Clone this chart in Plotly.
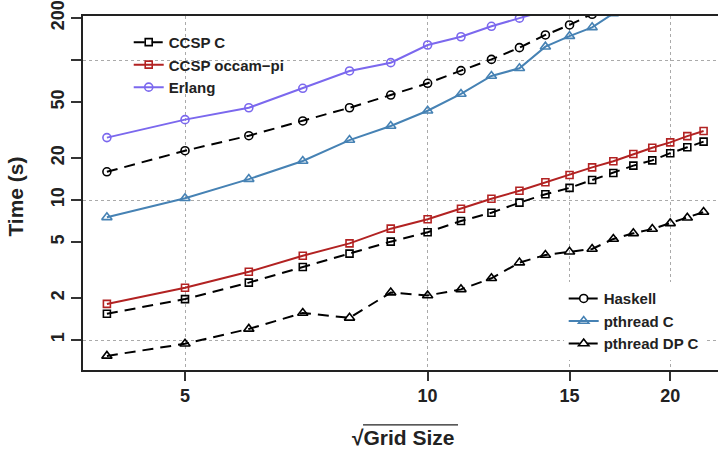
import plotly.graph_objects as go

grid = [4, 5, 6, 7, 8, 9, 10, 11, 12, 13, 14, 15, 16, 17, 18, 19, 20, 21, 22]

ccsp_c = [1.54, 1.96, 2.57, 3.32, 4.14, 5.04, 5.88, 7.08, 8.11, 9.57, 11.0, 12.2, 13.9, 15.6, 17.6, 19.2, 21.6, 23.8, 26.1]
ccsp_occam = [1.81, 2.36, 3.07, 4.0, 4.9, 6.24, 7.28, 8.67, 10.2, 11.65, 13.4, 15.1, 17.1, 18.9, 21.3, 23.6, 25.8, 28.6, 31.1]
erlang = [27.9, 37.5, 45.6, 62.8, 83.5, 95.7, 128, 146.6, 174, 199, 225, 260, 300, 345, 395, 450, 510, 575, 650]
haskell = [15.9, 22.5, 28.8, 36.7, 45.6, 56.2, 68.2, 83.9, 101, 122.5, 151, 178, 212, 250, 295, 345, 400, 460, 530]
pthread_c = [7.52, 10.3, 14.1, 19.0, 26.8, 33.8, 43.4, 57.2, 76.9, 87.3, 124.5, 148, 171, 215, 260, 310, 365, 430, 500]
pthread_dp_c = [0.77, 0.94, 1.2, 1.56, 1.44, 2.18, 2.08, 2.30, 2.76, 3.57, 4.05, 4.27, 4.47, 5.27, 5.78, 6.2, 6.81, 7.47, 8.2]

x_ticks = [5, 10, 15, 20]
y_ticks = [1, 2, 5, 10, 20, 50, 100, 200]
y_ticktext = ["1", "2", "5", "10", "20", "50", "", "200"]
y_grid = [1, 10, 100]

FONT = "Liberation Sans, Arial, sans-serif"
DASH = "11px,7px"

series = [
    ("CCSP C", ccsp_c, "black", DASH, "square-open", 7, "legend"),
    ("CCSP occam\u2212pi", ccsp_occam, "#B22222", "solid", "square-open", 7, "legend"),
    ("Erlang", erlang, "#7B68EE", "solid", "circle-open", 8, "legend"),
    ("Haskell", haskell, "black", DASH, "circle-open", 8, "legend2"),
    ("pthread C", pthread_c, "#4682B4", "solid", "triangle-up-open", 9, "legend2"),
    ("pthread DP C", pthread_dp_c, "black", DASH, "triangle-up-open", 9, "legend2"),
]

fig = go.Figure()
for name, vals, color, dash, sym, size, lg in series:
    fig.add_trace(go.Scatter(
        x=grid, y=vals, name=name, mode="lines+markers",
        line=dict(color=color, width=2, dash=dash),
        marker=dict(symbol=sym, size=size, color=color, line=dict(width=1.6, color=color)),
        legend=lg, cliponaxis=True,
    ))

fig.update_layout(
    width=718, height=452,
    margin=dict(l=83, r=0, t=16, b=82, autoexpand=False),
    plot_bgcolor="white", paper_bgcolor="white",
    font=dict(family=FONT, color="#222"),
    legend=dict(
        x=0.072, y=0.972, xanchor="left", yanchor="top",
        bgcolor="rgba(255,255,255,0)", borderwidth=0,
        font=dict(size=15, family=FONT, color="#222", weight="bold"),
        tracegroupgap=0, itemwidth=30,
    ),
    legend2=dict(
        x=0.757, y=0.248, xanchor="left", yanchor="top",
        bgcolor="white", borderwidth=0,
        font=dict(size=15, family=FONT, color="#222", weight="bold"),
        tracegroupgap=0, itemwidth=30,
    ),
    xaxis=dict(
        type="log", range=[0.5724, 1.3603], automargin=False,
        tickvals=x_ticks, ticktext=[str(v) for v in x_ticks],
        ticks="outside", ticklen=9, tickwidth=1.5, tickcolor="#333",
        showline=True, linecolor="#222", linewidth=1.5, mirror=True,
        showgrid=True, gridcolor="#aaaaaa", griddash="dot", gridwidth=1,
        tickfont=dict(size=18, family=FONT, color="#222", weight="bold"),
        zeroline=False,
    ),
    yaxis=dict(
        type="log", range=[-0.2143, 2.3143], automargin=False,
        tickvals=y_ticks, ticktext=y_ticktext, tickangle=-90,
        ticks="outside", ticklen=10, tickwidth=1.5, tickcolor="#333",
        showline=True, linecolor="#222", linewidth=1.5,
        showgrid=False, ticklabeloverflow="allow",
        minor=dict(tickmode="array", tickvals=y_grid, ticklen=0, showgrid=True,
                   gridcolor="#aaaaaa", griddash="dot", gridwidth=1),
        tickfont=dict(size=18, family=FONT, color="#222", weight="bold"),
        zeroline=False,
    ),
    annotations=[
        dict(text="<b>Time (s)</b>", xref="paper", yref="paper", x=-0.107, y=0.49,
             textangle=-90, showarrow=False, xanchor="center", yanchor="middle",
             font=dict(size=21, family=FONT, color="#222")),
        dict(text="<b>\u221aGrid Size</b>", xref="paper", yref="paper", x=0.5055, y=-0.19,
             showarrow=False, xanchor="center", yanchor="middle",
             font=dict(size=21, family=FONT, color="#222")),
    ],
    shapes=[
        # white panel behind the top-left legend: hides grid lines, keeps data visible
        dict(type="rect", xref="paper", yref="paper", x0=0.055, x1=0.33, y0=0.78, y1=0.945,
             fillcolor="white", line=dict(width=0), layer="between"),
        dict(type="line", xref="paper", yref="paper", x0=0.441, x1=0.5906, y0=-0.155, y1=-0.155,
             line=dict(color="#222", width=1.2)),
    ],
)

fig.write_html("out.html", config={"displayModeBar": False},
               post_script="document.body.style.margin='0';")
